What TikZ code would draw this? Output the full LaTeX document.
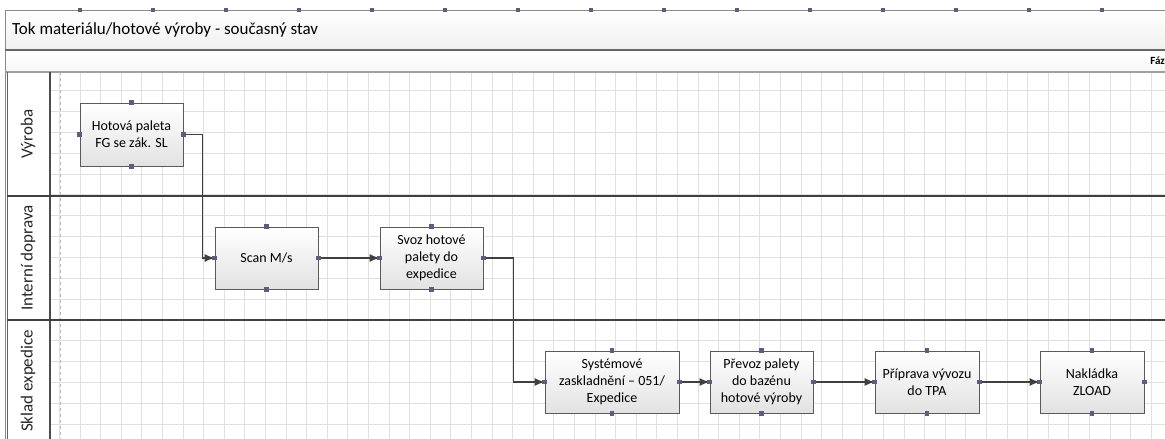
\documentclass[tikz,border=0pt]{standalone}
\usepackage{fontspec}
\setmainfont{Carlito}
\usetikzlibrary{arrows.meta,shadows,calc}
\definecolor{gridc}{HTML}{E0E0E0}
\definecolor{linec}{HTML}{404040}
\definecolor{dotc}{HTML}{5E5E7A}
\definecolor{boxb}{HTML}{5A5A5A}
\definecolor{boxbot}{HTML}{E2E2E2}
\definecolor{framec}{HTML}{8A8A8A}
\begin{document}
\begin{tikzpicture}[x=1pt,y=-1pt,
  gridline/.style={draw=gridc,line width=0.9pt},
  procbox/.style={draw=boxb,line width=0.9pt,top color=white,bottom color=boxbot,
    minimum width=103pt,minimum height=62pt,inner sep=2pt,align=center,
    font=\fontsize{14}{17}\selectfont,
    drop shadow={shadow xshift=1.2pt,shadow yshift=-1.2pt,opacity=0.35,fill=gray}},
  flow/.style={draw=linec,line width=1.3pt,-{Latex[length=10pt,width=8pt]}},
  lanelbl/.style={rotate=90,font=\fontsize{17}{20}\selectfont,text=black!85,inner sep=0pt},
  laneline/.style={draw=linec,line width=1.6pt},
  cdot/.style={fill=dotc}
]
\useasboundingbox (0,0) rectangle (1165,439);
\fill[white] (0,0) rectangle (1165,439);
% grid
\foreach \i in {-1,...,53} {\draw[gridline] ({80+\i*20.6},72) -- ++(0,367);}
\foreach \j in {4,...,21} {\draw[gridline] (50,{7.4+\j*20.83}) -- (1165,{7.4+\j*20.83});}
\draw[draw=gray!55,line width=0.8pt,dashed] (60,72) -- (60,439);
% title bands
\shade[top color=white,bottom color=gray!12] (5,10) rectangle (1165,50);
\shade[top color=white,bottom color=gray!6] (5,50) rectangle (1165,72);
\draw[draw=framec,line width=1pt] (5,439) -- (5,10) -- (1165,10);
\draw[draw=gray!80!black,line width=1.8pt] (5,50) -- (1165,50);
\draw[draw=gray!75,line width=1.2pt] (5,72) -- (1165,72);
\foreach \k in {0,...,14} {\fill[cdot] ({80+\k*73-2.2},7.8) rectangle ++(4.4,4.4);}
\node[anchor=west,font=\fontsize{17}{20}\selectfont,inner sep=0pt] (title) at (12,30) {Tok materiálu/hotové výroby - současný stav};
\node[anchor=east,font=\bfseries\fontsize{11}{12}\selectfont,inner sep=0pt] (faze) at (1165,61) {Fáz};
% lane header column
\fill[white] (7,73) rectangle (50,439);
\draw[draw=gray!80!black,line width=1pt] (7,72) -- (7,439);
\draw[draw=gray!60!black,line width=1.4pt] (50,72) -- (50,439);
\draw[laneline] (7,196) -- (1165,196);
\draw[laneline] (7,320) -- (1165,320);
\node[lanelbl] (l1) at (28,134) {Výroba};
\node[lanelbl] (l2) at (28,258) {Interní doprava};
\node[lanelbl] (l3) at (28,381) {Sklad expedice};
% boxes
\node[procbox,minimum height=63pt] (b1) at (131.5,134.5) {Hotová paleta\\FG se zák. SL};
\node[procbox] (scan) at (266.5,258) {Scan M/s};
\node[procbox] (svoz) at (431.5,258) {Svoz hotové\\palety do\\expedice};
\node[procbox,minimum width=134pt] (sys) at (612,382) {Systémové\\zaskladnění – 051/\\Expedice};
\node[procbox] (prevoz) at (761.5,382) {Převoz palety\\do bazénu\\hotové výroby};
\node[procbox,minimum width=104pt] (prip) at (927,382) {Příprava vývozu\\do TPA};
\node[procbox,minimum width=104pt] (nakl) at (1092,382) {Nakládka\\ZLOAD};
% connectors
\draw[flow] (b1.east) -- ++(19,0) |- (scan.west);
\draw[flow] (scan.east) -- (svoz.west);
\draw[flow] (svoz.east) -- ++(30,0) |- (sys.west);
\draw[flow] (sys.east) -- (prevoz.west);
\draw[flow] (prevoz.east) -- (prip.west);
\draw[flow] (prip.east) -- (nakl.west);
% connection dots
\foreach \n in {b1,scan,svoz,sys,prevoz,prip,nakl}
  \foreach \a in {north,south,east,west}
    {\fill[cdot] (\n.\a) ++(-2.2,-2.2) rectangle ++(4.4,4.4);}
\end{tikzpicture}
\end{document}
